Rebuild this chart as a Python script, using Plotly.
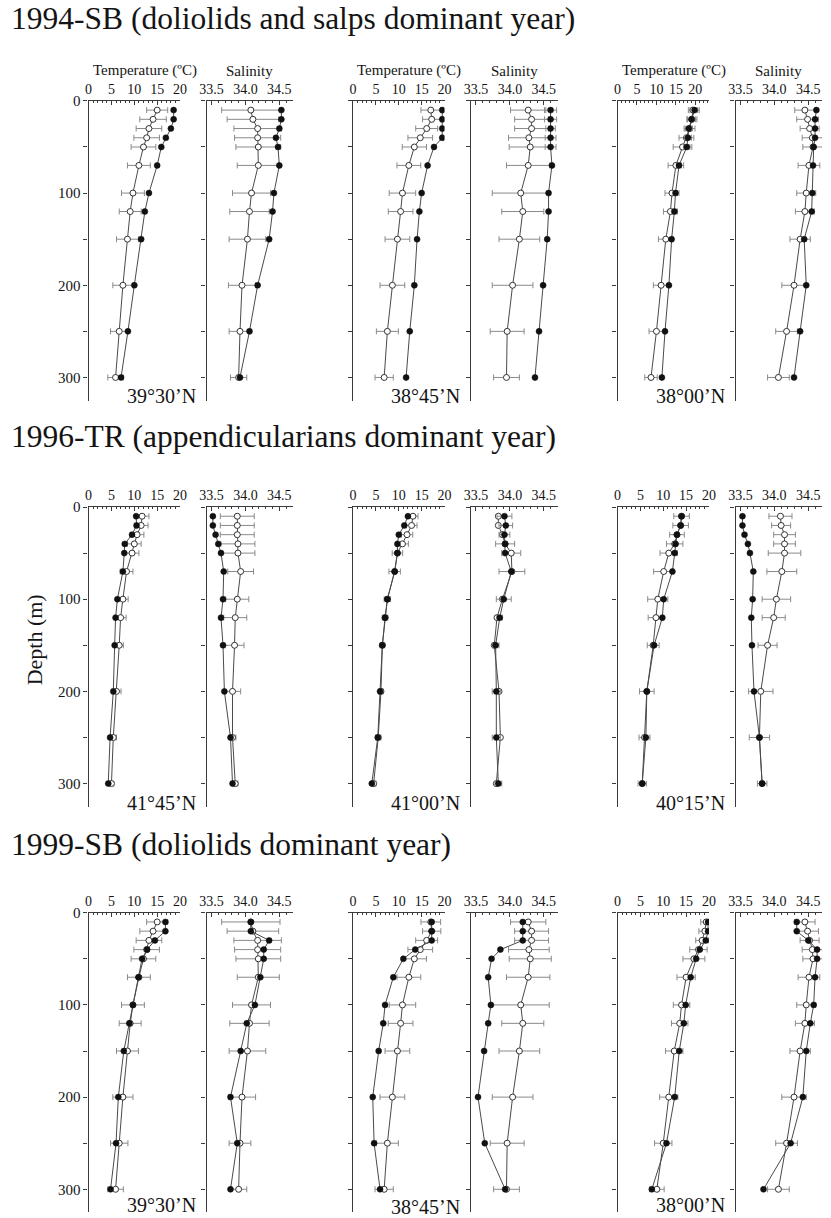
import plotly.graph_objects as go

# ---------------- data ----------------
DEPTH = [10, 20, 30, 40, 50, 70, 100, 120, 150, 200, 250, 300]

# climatological means (open circles) and SD, by station
T_MEAN_3930 = [15.0, 14.1, 13.2, 12.7, 12.0, 11.0, 9.7, 9.1, 8.5, 7.5, 6.7, 5.9]
T_SD_3930 = [2.3, 2.9, 2.8, 2.8, 2.7, 2.5, 2.5, 2.4, 2.4, 2.2, 1.9, 1.7]
S_MEAN_3930 = [34.08, 34.11, 34.18, 34.18, 34.19, 34.19, 34.09, 34.06, 34.03, 33.95, 33.92, 33.90]
S_SD_3930 = [0.43, 0.38, 0.35, 0.34, 0.33, 0.31, 0.28, 0.29, 0.27, 0.20, 0.16, 0.12]

T_MEAN_3845 = [17.0, 17.2, 16.1, 14.7, 13.4, 12.2, 10.8, 10.4, 9.7, 8.6, 7.5, 6.8]
T_SD_3845 = [2.15, 2.0, 2.4, 2.7, 2.65, 2.6, 2.9, 2.7, 2.7, 2.7, 2.4, 2.0]
S_MEAN_3845 = [34.27, 34.32, 34.32, 34.28, 34.30, 34.27, 34.16, 34.19, 34.14, 34.04, 33.96, 33.95]
S_SD_3845 = [0.26, 0.25, 0.25, 0.30, 0.31, 0.32, 0.42, 0.31, 0.30, 0.30, 0.25, 0.19]

T_MEAN_3800 = [19.4, 19.1, 18.5, 17.7, 16.7, 15.0, 14.0, 13.6, 12.4, 11.2, 10.0, 8.6]
T_SD_3800 = [1.2, 1.3, 1.4, 1.9, 2.4, 2.0, 1.8, 1.8, 1.9, 2.0, 1.9, 1.6]
S_MEAN_3800 = [34.45, 34.49, 34.52, 34.56, 34.57, 34.51, 34.47, 34.45, 34.38, 34.29, 34.18, 34.06]
S_SD_3800 = [0.15, 0.16, 0.14, 0.15, 0.15, 0.16, 0.14, 0.14, 0.15, 0.18, 0.16, 0.16]

T_MEAN_4145 = [11.7, 11.5, 10.6, 10.0, 9.5, 8.3, 7.5, 7.0, 6.7, 6.1, 5.4, 5.0]
T_SD_4145 = [1.5, 1.5, 1.5, 1.5, 1.5, 1.4, 1.15, 1.2, 0.9, 1.0, 0.7, 0.5]
S_MEAN_4145 = [33.88, 33.88, 33.88, 33.89, 33.89, 33.93, 33.88, 33.85, 33.84, 33.81, 33.81, 33.85]
S_SD_4145 = [0.25, 0.25, 0.25, 0.25, 0.25, 0.19, 0.17, 0.17, 0.14, 0.12, 0.05, 0.04]

T_MEAN_4100 = [13.1, 12.8, 11.8, 10.8, 9.7, 9.1, 7.5, 7.0, 6.4, 6.1, 5.5, 4.5]
T_SD_4100 = [1.1, 1.2, 1.25, 1.3, 1.15, 1.25, 0.7, 0.6, 0.5, 0.5, 0.6, 0.5]
S_MEAN_4100 = [33.83, 33.83, 33.89, 33.93, 34.02, 34.03, 33.89, 33.81, 33.77, 33.84, 33.86, 33.80]
S_SD_4100 = [0, 0, 0, 0.14, 0.14, 0.19, 0, 0, 0, 0, 0, 0]

T_MEAN_4015 = [14.0, 13.8, 13.0, 12.5, 11.2, 10.1, 8.8, 8.4, 7.8, 6.4, 5.9, 5.4]
T_SD_4015 = [1.7, 1.7, 1.6, 1.8, 1.9, 2.2, 2.2, 1.7, 1.3, 1.6, 1.2, 0.9]
S_MEAN_4015 = [34.09, 34.10, 34.15, 34.15, 34.15, 34.11, 34.03, 33.99, 33.90, 33.80, 33.78, 33.82]
S_SD_4015 = [0.17, 0.14, 0.16, 0.16, 0.24, 0.22, 0.21, 0.17, 0.14, 0.18, 0.15, 0.07]

# observed profiles of each year (filled circles)
T_1994_3930 = [18.6, 18.6, 18.0, 16.9, 15.9, 15.0, 13.2, 12.3, 11.5, 10.0, 8.6, 7.1]
S_1994_3930 = [34.53, 34.53, 34.50, 34.45, 34.48, 34.50, 34.42, 34.40, 34.35, 34.18, 34.06, 33.92]
T_1994_3845 = [19.5, 19.5, 19.5, 19.5, 17.7, 16.3, 15.0, 14.5, 14.0, 13.4, 12.4, 11.6]
T_SD_1994_3845 = [0.3, 0.3, 0.3, 0.3, 0, 0, 0, 0, 0, 0, 0, 0]
S_1994_3845 = [34.60, 34.60, 34.60, 34.60, 34.60, 34.62, 34.57, 34.57, 34.55, 34.49, 34.43, 34.37]
S_SD_1994_3845 = [0.09, 0.09, 0.07, 0.08, 0.08, 0, 0, 0, 0, 0, 0, 0]
T_1994_3800 = [19.8, 19.0, 18.3, 18.1, 17.8, 15.8, 14.9, 14.6, 13.9, 13.2, 12.2, 11.4]
T_SD_1994_3800 = [1.2, 1.0, 0.9, 0.9, 0.8, 0.6, 0.5, 0.5, 0, 0, 0, 0]
S_1994_3800 = [34.62, 34.60, 34.60, 34.60, 34.58, 34.57, 34.56, 34.55, 34.44, 34.47, 34.38, 34.29]

T_1996_4145 = [10.4, 10.5, 9.5, 7.9, 7.8, 7.5, 6.3, 5.9, 5.7, 5.4, 4.7, 4.3]
S_1996_4145 = [33.52, 33.52, 33.56, 33.60, 33.64, 33.68, 33.67, 33.64, 33.67, 33.69, 33.78, 33.81]
T_1996_4100 = [12.0, 11.2, 10.0, 9.7, 9.7, 9.1, 7.5, 7.0, 6.4, 5.9, 5.4, 4.1]
S_1996_4100 = [33.92, 33.94, 33.92, 33.93, 33.93, 34.02, 33.91, 33.85, 33.79, 33.80, 33.80, 33.83]
S_SD_1996_4100 = [0.11, 0.10, 0.08, 0, 0, 0, 0.11, 0.04, 0.05, 0.06, 0.06, 0.05]
T_1996_4015 = [14.0, 13.8, 13.0, 12.7, 12.5, 12.0, 10.1, 9.8, 8.0, 6.4, 6.2, 5.4]
S_1996_4015 = [33.53, 33.53, 33.56, 33.61, 33.64, 33.69, 33.68, 33.66, 33.67, 33.70, 33.78, 33.82]

T_1999_3930 = [16.8, 16.8, 14.5, 12.8, 11.7, 10.9, 9.7, 8.9, 7.7, 6.5, 6.0, 4.8]
S_1999_3930 = [34.08, 34.08, 34.35, 34.27, 34.27, 34.22, 34.14, 34.02, 33.93, 33.78, 33.88, 33.78]
T_1999_3845 = [17.2, 17.2, 17.2, 13.6, 11.0, 8.8, 7.0, 6.6, 5.6, 4.3, 4.6, 5.9]
S_1999_3845 = [34.19, 34.19, 34.19, 33.86, 33.73, 33.68, 33.72, 33.68, 33.62, 33.53, 33.63, 33.93]
T_1999_3800 = [19.8, 19.8, 19.3, 18.0, 17.2, 16.0, 14.9, 14.5, 13.5, 12.5, 10.7, 7.5]
S_1999_3800 = [34.33, 34.33, 34.50, 34.63, 34.63, 34.60, 34.58, 34.53, 34.47, 34.42, 34.24, 33.84]

ROW_TITLES = ["1994-SB (doliolids and salps dominant year)",
              "1996-TR (appendicularians dominant year)",
              "1999-SB (doliolids dominant year)"]
STATION_LABELS = [["39°30’N", "38°45’N", "38°00’N"],
                  ["41°45’N", "41°00’N", "40°15’N"],
                  ["39°30’N", "38°45’N", "38°00’N"]]
DEPTH_TICKS = [0, 50, 100, 150, 200, 250, 300]
DEPTH_TICKTEXT = ["0", "", "100", "", "200", "", "300"]
TEMP_TICKS = [0, 5, 10, 15, 20]
SAL_TICKS = [33.5, 34.0, 34.5]

ZERO = [0] * 12
# (temp obs, temp obs sd, temp mean, temp mean sd, sal obs, sal obs sd, sal mean, sal mean sd)
PANELS = [
    [(T_1994_3930, ZERO, T_MEAN_3930, T_SD_3930, S_1994_3930, ZERO, S_MEAN_3930, S_SD_3930),
     (T_1994_3845, T_SD_1994_3845, T_MEAN_3845, T_SD_3845, S_1994_3845, S_SD_1994_3845, S_MEAN_3845, S_SD_3845),
     (T_1994_3800, T_SD_1994_3800, T_MEAN_3800, T_SD_3800, S_1994_3800, ZERO, S_MEAN_3800, S_SD_3800)],
    [(T_1996_4145, ZERO, T_MEAN_4145, T_SD_4145, S_1996_4145, ZERO, S_MEAN_4145, S_SD_4145),
     (T_1996_4100, ZERO, T_MEAN_4100, T_SD_4100, S_1996_4100, S_SD_1996_4100, S_MEAN_4100, S_SD_4100),
     (T_1996_4015, ZERO, T_MEAN_4015, T_SD_4015, S_1996_4015, ZERO, S_MEAN_4015, S_SD_4015)],
    [(T_1999_3930, ZERO, T_MEAN_3930, T_SD_3930, S_1999_3930, ZERO, S_MEAN_3930, S_SD_3930),
     (T_1999_3845, ZERO, T_MEAN_3845, T_SD_3845, S_1999_3845, ZERO, S_MEAN_3845, S_SD_3845),
     (T_1999_3800, ZERO, T_MEAN_3800, T_SD_3800, S_1999_3800, ZERO, S_MEAN_3800, S_SD_3800)],
]
TEMP_MAX = [[20, 20, 23.5], [20, 20, 20], [20, 20, 20]]

# ---------------- layout geometry (pixels) ----------------
W, H = 831, 1218
ROW_TOP = [93.5, 502.3, 910.7]
PX_PER_M = 0.928
DEPTH_MAX = 325
TEMP_LEFT = [83, 352, 621]
SAL_LEFT = [203, 472, 741]
TEMP_W = 93
SAL_W = 88
SAL_PX_PER_UNIT = 69.0
SAL_MIN = 33.5 - 5 / SAL_PX_PER_UNIT
SAL_MAX = SAL_MIN + SAL_W / SAL_PX_PER_UNIT

FONT = "Liberation Serif"
AX = "#3a3a3a"
LINE = "#4a4a4a"
ERR = "#8a8a8a"
TXT = "#141414"


def fx(p):
    return p / W


def fy(p):
    return 1 - p / H


fig = go.Figure()
layout = {}
annotations = []
n = 0


def add_axes(left, width, top, xr, xticks, xminor, ticktext, ylabels):
    global n
    n += 1
    xa = "xaxis" if n == 1 else f"xaxis{n}"
    ya = "yaxis" if n == 1 else f"yaxis{n}"
    xref = "x" if n == 1 else f"x{n}"
    yref = "y" if n == 1 else f"y{n}"
    bottom = top + DEPTH_MAX * PX_PER_M
    layout[xa] = dict(
        domain=[fx(left), fx(left + width)], anchor=yref, side="top",
        range=xr, showline=True, linecolor=AX, linewidth=1.3,
        showgrid=False, zeroline=False, ticks="inside", ticklen=4,
        tickcolor=AX, tickwidth=1, tickvals=xticks, ticktext=ticktext,
        tickfont=dict(family=FONT, size=14, color=TXT),
        minor=dict(dtick=xminor, ticklen=2, ticks="inside", tickcolor=AX, tickwidth=1),
        fixedrange=True,
    )
    layout[ya] = dict(
        domain=[fy(bottom), fy(top)], anchor=xref,
        range=[DEPTH_MAX, 0], showline=True, linecolor=AX, linewidth=1.3,
        showgrid=False, zeroline=False, ticks="outside", ticklen=4,
        tickcolor=AX, tickwidth=1, tickvals=DEPTH_TICKS,
        ticktext=DEPTH_TICKTEXT if ylabels else [""] * len(DEPTH_TICKS),
        tickfont=dict(family=FONT, size=15, color=TXT),
        fixedrange=True,
    )
    return xref, yref


def add_profile(xref, yref, obs, obs_sd, mean, mean_sd):
    fig.add_trace(go.Scatter(
        x=mean, y=DEPTH, xaxis=xref, yaxis=yref, mode="lines+markers",
        line=dict(color=LINE, width=1),
        marker=dict(symbol="circle", size=6, color="white", line=dict(color="#333", width=1)),
        error_x=dict(type="data", array=mean_sd, color=ERR, thickness=1, width=3),
        showlegend=False, hoverinfo="skip",
    ))
    fig.add_trace(go.Scatter(
        x=obs, y=DEPTH, xaxis=xref, yaxis=yref, mode="lines+markers",
        line=dict(color=LINE, width=1),
        marker=dict(symbol="circle", size=6, color="#111", line=dict(color="#111", width=0.5)),
        error_x=dict(type="data", array=obs_sd, color=ERR, thickness=1, width=3,
                     visible=any(v > 0 for v in obs_sd)),
        showlegend=False, hoverinfo="skip",
    ))


ROW_TITLE_Y = [11, 431, 842]
LABEL_Y = [391, 800, 1205]

temp_text = [str(v) for v in TEMP_TICKS]
sal_text = ["%.1f" % v for v in SAL_TICKS]

for r in range(3):
    top = ROW_TOP[r]
    for c in range(3):
        t_obs, t_obs_sd, t_mean, t_mean_sd, s_obs, s_obs_sd, s_mean, s_mean_sd = PANELS[r][c]
        xr, yr = add_axes(TEMP_LEFT[c], TEMP_W, top, [0, TEMP_MAX[r][c]], TEMP_TICKS, 1, temp_text, c == 0)
        add_profile(xr, yr, t_obs, t_obs_sd, t_mean, t_mean_sd)
        xr, yr = add_axes(SAL_LEFT[c], SAL_W, top, [SAL_MIN, SAL_MAX], SAL_TICKS, 0.1, sal_text, False)
        add_profile(xr, yr, s_obs, s_obs_sd, s_mean, s_mean_sd)
        annotations.append(dict(
            text=STATION_LABELS[r][c], x=fx(SAL_LEFT[c] - 9),
            y=fy(LABEL_Y[r] + (2 if (r == 2 and c == 1) else 0)),
            xref="paper", yref="paper", xanchor="right", yanchor="middle", showarrow=False,
            font=dict(family=FONT, size=20, color=TXT)))
        if r == 0:
            annotations.append(dict(
                text="Temperature (ºC)", x=fx(TEMP_LEFT[c] + 57), y=fy(63), xref="paper", yref="paper",
                xanchor="center", yanchor="middle", showarrow=False,
                font=dict(family=FONT, size=15, color=TXT)))
            annotations.append(dict(
                text="Salinity", x=fx(SAL_LEFT[c] + 44), y=fy(63), xref="paper", yref="paper",
                xanchor="center", yanchor="middle", showarrow=False,
                font=dict(family=FONT, size=15, color=TXT)))
    annotations.append(dict(
        text=ROW_TITLES[r], x=fx(2), y=fy(ROW_TITLE_Y[r]), xref="paper", yref="paper",
        xanchor="left", yanchor="middle", showarrow=False,
        font=dict(family=FONT, size=31.5, color=TXT)))

annotations.append(dict(
    text="Depth (m)", x=fx(28), y=fy(636), xref="paper", yref="paper", textangle=-90,
    xanchor="center", yanchor="middle", showarrow=False,
    font=dict(family=FONT, size=22, color=TXT)))

fig.update_layout(
    width=W, height=H, margin=dict(l=0, r=0, t=0, b=0),
    paper_bgcolor="white", plot_bgcolor="white",
    showlegend=False, annotations=annotations, **layout,
)

fig.write_html("out.html")
